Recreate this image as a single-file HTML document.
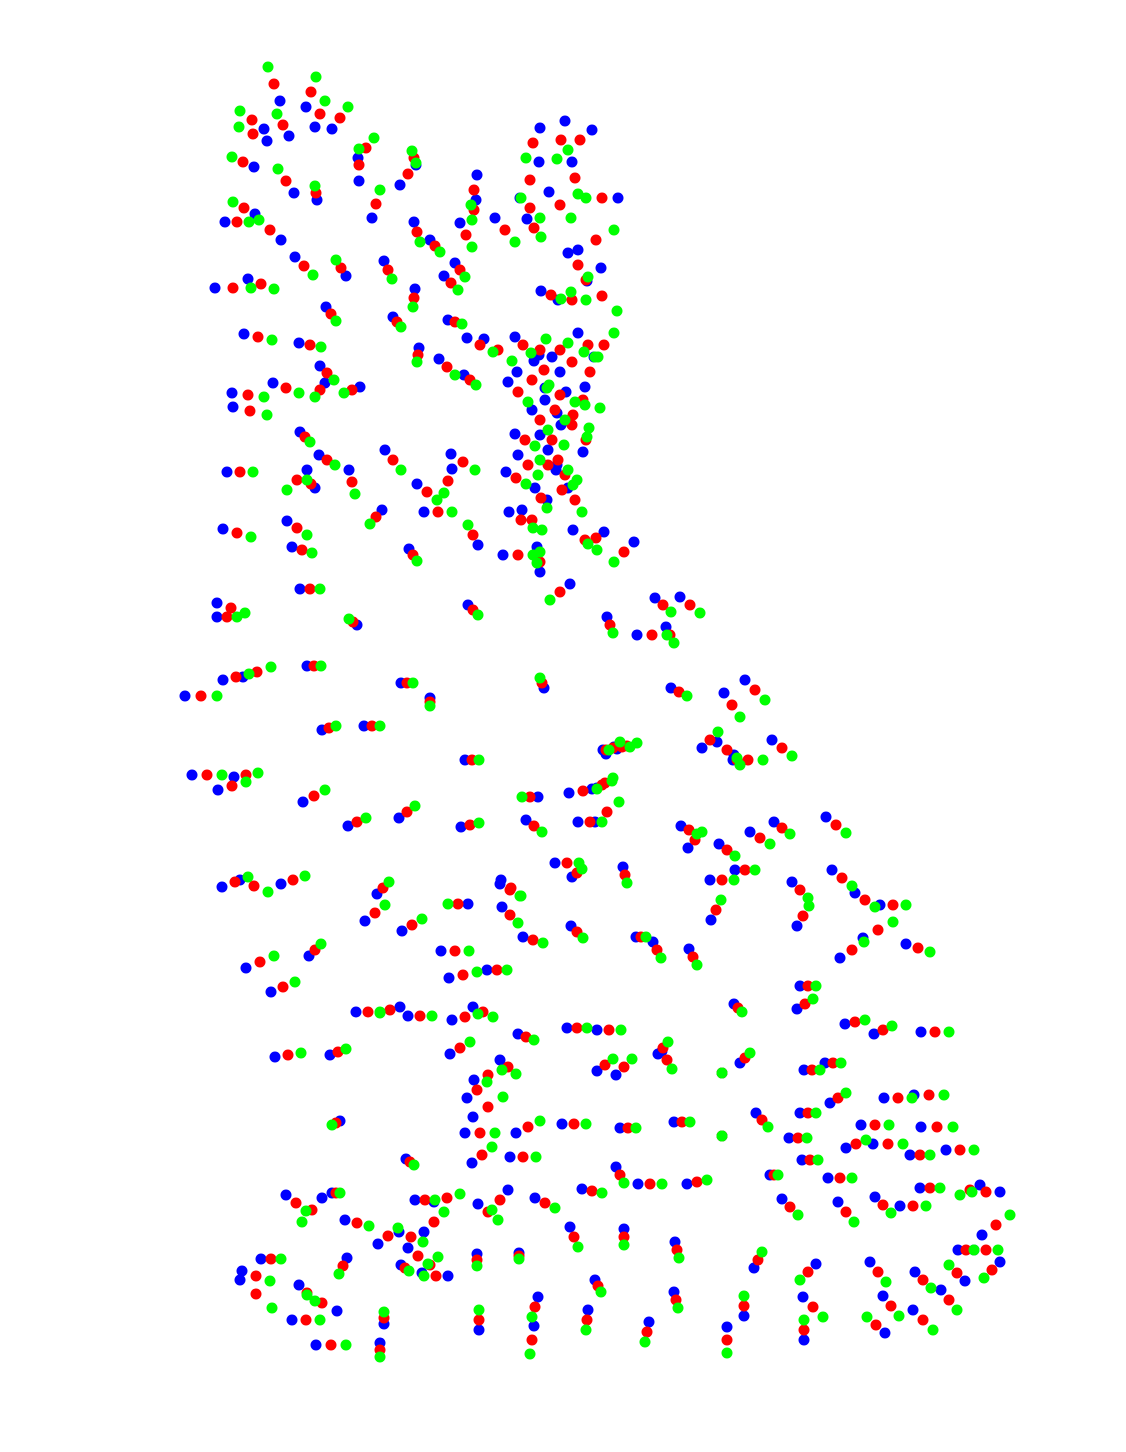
<!DOCTYPE html>
<html><head><meta charset="utf-8"><style>
html,body{margin:0;padding:0;background:#fff;}
svg{display:block;}
</style></head><body>
<svg id="chart" width="1126" height="1452" viewBox="0 0 1126 1452" xmlns="http://www.w3.org/2000/svg">
<rect width="1126" height="1452" fill="#fff"/>
<g id="blue-layer"></g>
<g id="red-layer"></g>
<g id="green-layer"></g>
</svg>
<script>
// Each triplet: red point x, red point y, offset dx, offset dy (green = red - d, blue = red + d), in data units
const triplets = [
[274,84,6,17],[311,92,-5,15],[252,120,12,9],[320,114,-5,13],[340,118,-8,11],[283,125,6,11],[253,134,14,7],
[243,162,11,5],[366,148,-8,10],[359,165,0,16],[286,181,8,12],[316,193,1,7],[414,158,2,7],[408,174,-8,11],
[376,204,-4,14],[244,208,11,6],[237,222,-12,0],[270,230,11,10],[304,266,-9,-9],[341,268,5,8],[388,270,-4,-9],
[417,232,-3,-10],[435,246,-5,-6],[466,235,-6,-12],[474,190,3,-15],[474,210,2,-10],[505,230,-10,-12],
[534,228,-7,-9],[530,208,-10,-10],[560,205,-11,-13],[530,180,9,-18],[533,143,7,-15],[561,140,4,-19],
[580,140,12,-10],[575,178,-3,-16],[602,198,16,0],[596,240,-18,10],[578,265,-10,-12],[586,280,15,-12],
[602,296,-15,-15],[572,300,-14,0],[551,295,-10,-4],[261,284,-13,-5],[233,288,-18,0],[258,337,-14,-3],
[310,345,-11,-2],[331,314,-5,-7],[397,322,-4,-5],[414,298,1,-9],[455,322,-7,-2],[451,283,-7,-7],
[460,270,-5,-7],[418,355,1,-7],[447,367,-8,-8],[470,380,-6,-5],[498,350,-14,-11],[480,345,-13,-7],
[523,345,-8,-8],[540,350,-6,11],[560,350,-8,7],[588,345,-10,-12],[604,345,-10,12],[572,362,-12,10],
[544,370,-5,-15],[532,380,-15,-8],[518,392,-10,-10],[560,395,-15,-7],[590,372,-5,15],[583,400,-17,-8],
[573,415,-12,10],[555,410,-10,-10],[540,420,-8,-10],[525,440,-10,-6],[552,440,-12,-5],[572,425,-15,-12],
[586,440,-3,12],[558,460,-10,-10],[528,465,-10,-10],[548,465,8,5],[565,475,-8,-10],[541,498,-6,-10],
[562,490,-15,10],[575,500,-7,-12],[532,520,-10,-10],[516,478,-10,-6],[521,520,-12,-8],[585,540,-12,-10],
[596,538,8,-6],[624,552,10,-10],[540,562,0,10],[560,592,10,-8],[537,555,0,-8],[327,373,-7,-7],
[352,390,8,-3],[320,390,5,-7],[305,437,-5,-5],[327,460,-8,-5],[248,395,-16,-2],[250,411,-17,-4],
[286,388,-13,-5],[240,472,-13,0],[297,480,10,-10],[311,484,4,4],[352,482,-3,-12],[376,517,6,-7],
[393,460,-8,-10],[427,492,-10,-8],[448,481,4,-12],[463,462,-12,-8],[438,512,-14,0],[473,535,5,10],
[518,555,-15,0],[237,533,-14,-4],[297,528,-10,-7],[302,550,-10,-3],[413,555,-4,-6],[310,589,-10,0],
[473,610,-5,-5],[231,608,-14,-5],[227,617,-10,0],[353,622,4,3],[201,696,-16,0],[236,677,-13,3],
[257,672,-14,5],[314,666,-7,0],[407,683,-6,0],[430,702,0,-4],[542,683,2,5],[329,728,-7,2],
[372,726,-8,0],[472,760,-7,0],[207,775,-15,0],[246,775,-12,2],[232,786,-14,4],[314,796,-11,6],
[357,822,-9,4],[407,812,-8,6],[470,825,-9,2],[534,826,-8,-6],[530,797,8,0],[583,791,-14,2],
[605,783,-8,5],[607,812,-12,10],[590,822,-12,0],[613,748,-7,6],[627,746,-10,3],[235,882,-13,5],
[254,886,-14,-6],[293,880,-12,4],[383,888,-6,6],[375,913,-10,8],[412,925,-10,6],[458,904,10,0],
[510,890,-10,-6],[510,915,-8,-8],[533,940,-10,-3],[577,932,-6,-6],[641,937,-5,0],[657,950,-4,-8],
[693,957,-4,-8],[315,950,-6,6],[260,962,-14,6],[283,987,-12,5],[455,951,-14,0],[463,975,-14,3],
[497,970,-10,0],[368,1012,-12,0],[390,1010,10,-3],[420,1016,-12,0],[465,1017,-13,3],[483,1012,-10,-5],
[338,1052,-8,3],[288,1055,-13,2],[460,1048,-10,6],[526,1037,-8,-3],[577,1028,-10,0],[609,1030,-12,0],
[624,1067,-8,8],[667,1060,-5,-9],[722,1073,0,0],[508,1067,-8,-7],[488,1075,-14,5],[477,1090,-10,8],
[488,1107,-15,10],[336,1123,4,-2],[480,1133,-15,0],[528,1127,-12,6],[574,1124,-12,0],[628,1128,-8,0],
[682,1122,-8,0],[762,1120,-6,-7],[808,1113,-8,0],[798,1138,-9,0],[722,1136,0,0],[482,1155,-10,8],
[523,1157,-13,0],[410,1162,-4,-3],[620,1175,-4,-8],[650,1184,-12,0],[697,1182,-10,2],[774,1175,-4,0],
[810,1160,-8,0],[840,1178,-12,0],[592,1191,-10,-2],[545,1203,-10,-5],[500,1200,8,-10],[488,1212,-10,-8],
[425,1200,-10,0],[447,1198,-13,4],[434,1222,-10,10],[411,1237,-12,-5],[296,1203,-10,-8],[312,1210,10,-12],
[336,1193,-4,0],[357,1223,-12,-3],[388,1236,-10,8],[418,1256,-10,-8],[430,1265,-8,8],[436,1276,12,0],
[405,1268,-4,-3],[343,1266,4,-8],[271,1259,-10,0],[256,1276,-14,-5],[256,1294,-16,-14],[307,1293,-8,-8],
[322,1303,15,8],[306,1320,-14,0],[331,1345,-15,0],[380,1350,0,-7],[384,1318,0,6],[479,1320,0,10],
[477,1260,0,-6],[519,1256,0,-3],[535,1307,3,-10],[532,1340,2,-14],[587,1320,1,-10],[598,1286,-3,-6],
[574,1237,-4,-10],[624,1237,0,-8],[677,1250,-2,-8],[676,1300,-2,-8],[647,1332,2,-10],[727,1340,0,-13],
[744,1306,0,10],[758,1260,-4,8],[804,1330,0,10],[808,1272,8,-8],[813,1307,-10,-10],[876,1325,9,8],
[891,1306,-8,-10],[878,1272,-8,-10],[923,1280,-8,-8],[949,1300,-8,-10],[923,1320,-10,-10],[957,1273,8,8],
[966,1250,-8,0],[986,1250,-12,0],[996,1225,-14,10],[992,1270,8,-8],[790,1207,-8,-8],[846,1212,-8,-10],
[883,1205,-8,-8],[913,1206,-13,0],[930,1188,-10,0],[970,1190,10,-5],[986,1192,14,0],[856,1144,-10,4],
[888,1144,-15,0],[838,1098,-8,5],[898,1098,-14,0],[929,1095,-15,0],[875,1125,-14,0],[937,1127,-16,0],
[960,1150,-14,0],[920,1155,-10,0],[812,1070,-8,0],[833,1063,-8,0],[855,1022,-10,2],[883,1030,-9,4],
[935,1032,-14,0],[745,1058,-5,5],[805,1004,-8,5],[808,986,-8,0],[738,1008,-4,-4],[663,1048,-5,6],
[605,1065,-8,6],[722,880,-12,0],[716,910,-5,10],[745,870,-10,0],[803,916,-6,10],[800,890,-8,-8],
[842,878,-10,-8],[865,900,-10,-7],[893,905,-13,0],[878,930,-15,8],[852,950,-12,8],[918,948,-12,-4],
[695,840,-7,8],[727,850,-8,-6],[760,838,-10,-6],[782,828,-8,-6],[836,825,-10,-8],[663,605,-8,-7],
[670,635,-4,-8],[610,625,-3,-8],[652,635,-15,0],[690,605,-10,-8],[679,692,-8,-4],[755,690,-10,-10],
[732,705,-8,-12],[727,750,-10,-8],[748,760,-15,0],[782,748,-10,-8],[737,760,-3,-5],[710,740,-8,8],
[606,750,-3,0],[622,747,-8,0],[602,785,-10,4],[567,863,-12,0],[577,873,-5,4],[625,875,-2,-8],
[511,888,-10,-8],[689,830,-8,-4]
];
const xDomain = [0, 1126];
const yDomain = [0, 1452];
const seriesNames = ['blue', 'red', 'green'];
const seriesColors = ['#0000ff', '#ff0000', '#00ff00'];

const W = 1126, H = 1452;
function xScale(v){ return (v - xDomain[0]) / (xDomain[1] - xDomain[0]) * W; }
function yScale(v){ return (v - yDomain[0]) / (yDomain[1] - yDomain[0]) * H; }

const NS = 'http://www.w3.org/2000/svg';
const layers = {
  blue: document.getElementById('blue-layer'),
  red: document.getElementById('red-layer'),
  green: document.getElementById('green-layer')
};
seriesNames.forEach(function(name, si){
  triplets.forEach(function(t, i){
    const sign = name === 'red' ? 0 : (name === 'green' ? -1 : 1);
    const c = document.createElementNS(NS, 'circle');
    c.setAttribute('cx', xScale(t[0] + sign * t[2]));
    c.setAttribute('cy', yScale(t[1] + sign * t[3]));
    c.setAttribute('r', 5.5);
    c.setAttribute('fill', seriesColors[si]);
    
    
    layers[name].appendChild(c);
  });
});
</script>
</body></html>
